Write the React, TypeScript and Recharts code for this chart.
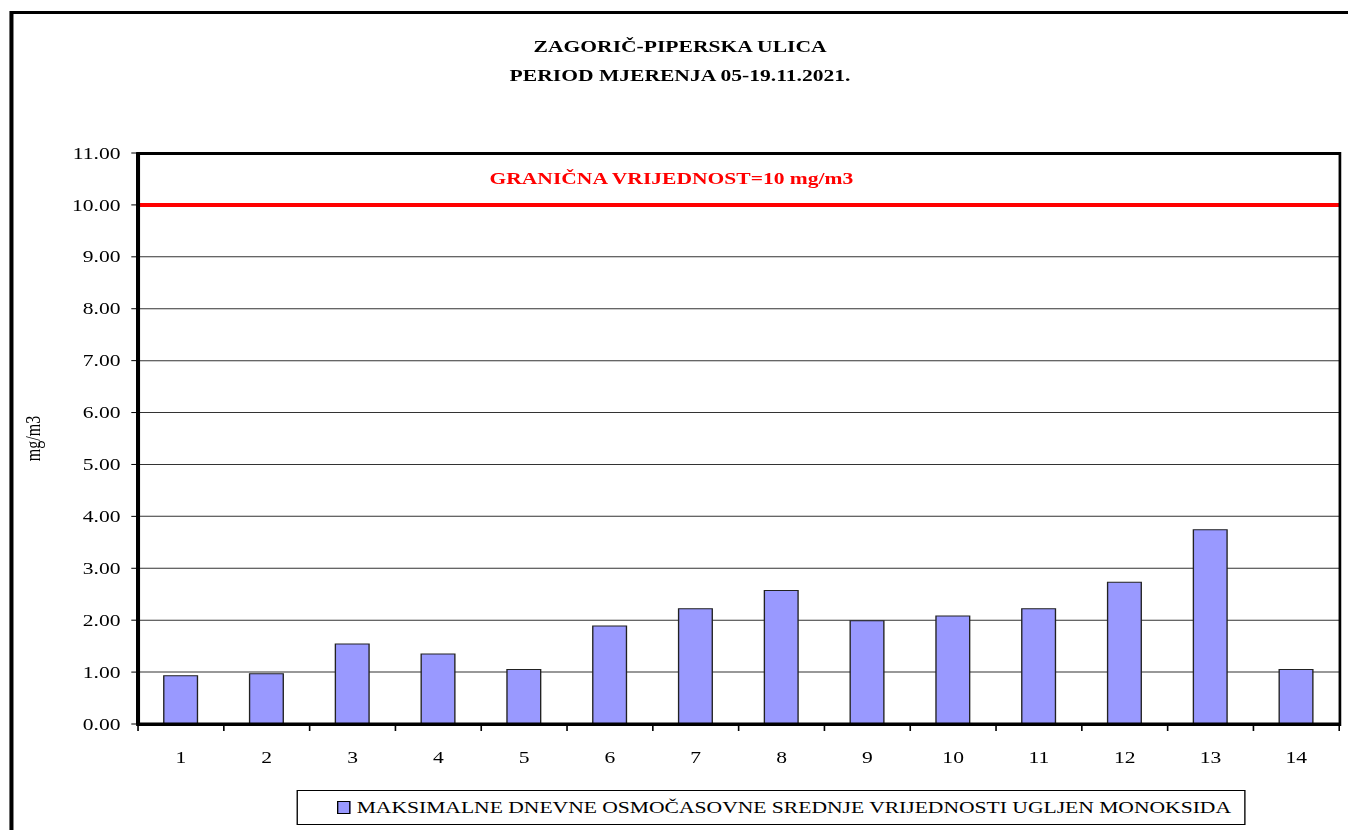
import React from 'react';
import { BarChart, Bar, XAxis, YAxis, CartesianGrid, ReferenceLine, Legend } from 'recharts';

const categories = ['1', '2', '3', '4', '5', '6', '7', '8', '9', '10', '11', '12', '13', '14'];
const coValues = [0.93, 0.97, 1.54, 1.35, 1.05, 1.89, 2.22, 2.57, 1.99, 2.08, 2.22, 2.73, 3.74, 1.05];
const yTicks = [0, 1, 2, 3, 4, 5, 6, 7, 8, 9, 10, 11];
const limitValue = 10;
const titleLines = ['ZAGORIČ-PIPERSKA ULICA', 'PERIOD MJERENJA 05-19.11.2021.'];
const limitLabel = 'GRANIČNA VRIJEDNOST=10 mg/m3';
const seriesName = 'MAKSIMALNE DNEVNE OSMOČASOVNE SREDNJE VRIJEDNOSTI UGLJEN MONOKSIDA';
const yLabel = 'mg/m3';

const data = categories.map((c, i) => ({ day: c, co: coValues[i] }));

const SCALE_X = 1.348;
const W = 1000;
const H = 830;
const PLOT_LEFT = 102.4;
const PLOT_RIGHT = 993.5;
const PLOT_TOP = 153;
const PLOT_BOTTOM = 724;
const Y_AXIS_W = 60;
const X_AXIS_H = 40;
const BAND = (PLOT_RIGHT - PLOT_LEFT) / categories.length;
const FONT = '"Liberation Serif", "Times New Roman", serif';

const XTick = (props: any) => {
  const { x, y, payload } = props;
  const half = BAND / 2;
  const isLast = payload.value === categories[categories.length - 1];
  return (
    <g>
      <line x1={x - half} x2={x - half} y1={y} y2={y + 7} stroke="#000" strokeWidth={1.2} />
      {isLast && <line x1={x + half} x2={x + half} y1={y} y2={y + 7} stroke="#000" strokeWidth={1.2} />}
      <text x={x} y={y + 39} textAnchor="middle" fontFamily={FONT} fontSize={16} fill="#000">
        {payload.value}
      </text>
    </g>
  );
};

const LimitLabel = (props: any) => {
  const vb = props.viewBox || {};
  const cx = PLOT_LEFT + (PLOT_RIGHT - PLOT_LEFT) * 0.444;
  return (
    <text x={cx} y={vb.y - 21} textAnchor="middle" fontFamily={FONT} fontSize={16} fontWeight="bold" fill="#FF0000">
      {limitLabel}
    </text>
  );
};

const YLabel = () => (
  <text
    x={24.5}
    y={(PLOT_TOP + PLOT_BOTTOM) / 2}
    transform={`rotate(-90 24.5 ${(PLOT_TOP + PLOT_BOTTOM) / 2})`}
    textAnchor="middle"
    dominantBaseline="central"
    fontFamily={FONT}
    fontSize={16}
    fill="#000"
  >
    {yLabel}
  </text>
);

const LegendContent = () => (
  <div
    style={{
      boxSizing: 'border-box',
      width: '100%',
      height: 35,
      border: '1px solid #000',
      display: 'flex',
      alignItems: 'center',
      paddingLeft: 29,
      fontFamily: FONT,
      fontSize: 16,
      color: '#000',
      background: '#fff',
    }}
  >
    <span
      style={{
        display: 'inline-block',
        width: 8,
        height: 11,
        background: '#9999FF',
        border: '1px solid #000',
        marginRight: 5,
      }}
    />
    <span style={{ whiteSpace: 'nowrap' }}>{seriesName}</span>
  </div>
);

export default function App() {
  return (
    <div
      style={{
        position: 'absolute',
        left: 0,
        top: 0,
        width: 1348,
        height: 830,
        overflow: 'hidden',
        background: '#fff',
      }}
    >
      <div
        style={{
          position: 'relative',
          width: W,
          height: H,
          transform: `scaleX(${SCALE_X})`,
          transformOrigin: '0 0',
        }}
      >
        <div
          style={{
            position: 'absolute',
            left: 7.4,
            top: 11,
            width: 1100,
            height: 1000,
            border: '3px solid #000',
            boxSizing: 'border-box',
          }}
        />
        <div
          style={{
            position: 'absolute',
            left: 0,
            top: 32,
            width: 1009,
            textAlign: 'center',
            fontFamily: FONT,
            fontWeight: 'bold',
            fontSize: 16,
            lineHeight: '29px',
            color: '#000',
          }}
        >
          {titleLines.map((t) => (
            <div key={t}>{t}</div>
          ))}
        </div>
        <div style={{ position: 'absolute', left: 0, top: 0, width: PLOT_RIGHT, height: H, overflow: 'hidden' }}>
          <BarChart
            width={W}
            height={H}
            data={data}
            margin={{
              top: PLOT_TOP,
              right: W - PLOT_RIGHT,
              left: PLOT_LEFT - Y_AXIS_W,
              bottom: H - PLOT_BOTTOM - X_AXIS_H,
            }}
            barCategoryGap="30%"
          >
            <CartesianGrid vertical={false} stroke="#333" strokeWidth={1} />
            <XAxis
              dataKey="day"
              height={X_AXIS_H}
              tickSize={0}
              tickMargin={0}
              tickLine={false}
              axisLine={{ stroke: '#000', strokeWidth: 3 }}
              tick={<XTick />}
              interval={0}
            />
            <YAxis
              type="number"
              domain={[0, 11]}
              ticks={yTicks}
              interval={0}
              width={Y_AXIS_W}
              tickFormatter={(v: number) => v.toFixed(2)}
              tickSize={5}
              tickMargin={8}
              tickLine={{ stroke: '#000', strokeWidth: 1 }}
              axisLine={{ stroke: '#000', strokeWidth: 3 }}
              tick={{ fill: '#000', fontSize: 16, fontFamily: FONT }}
              label={<YLabel />}
            />
            <Bar
              dataKey="co"
              name={seriesName}
              fill="#9999FF"
              stroke="#222"
              strokeWidth={1}
              isAnimationActive={false}
            />
            <ReferenceLine y={limitValue} stroke="#FF0000" strokeWidth={4} label={<LimitLabel />} />
            <Legend
              layout="horizontal"
              verticalAlign="middle"
              align="center"
              content={<LegendContent />}
              wrapperStyle={{ left: 219.6, top: 790, width: 704, height: 35, bottom: 'auto', right: 'auto' }}
            />
          </BarChart>
        </div>
        <div
          style={{
            position: 'absolute',
            left: PLOT_LEFT - 1.5,
            top: PLOT_TOP - 1.5,
            width: PLOT_RIGHT - PLOT_LEFT + 3,
            height: PLOT_BOTTOM - PLOT_TOP + 3,
            border: '3px solid #000',
            borderLeftWidth: 2.5,
            borderRightWidth: 2.5,
            boxSizing: 'border-box',
            pointerEvents: 'none',
          }}
        />
      </div>
    </div>
  );
}
